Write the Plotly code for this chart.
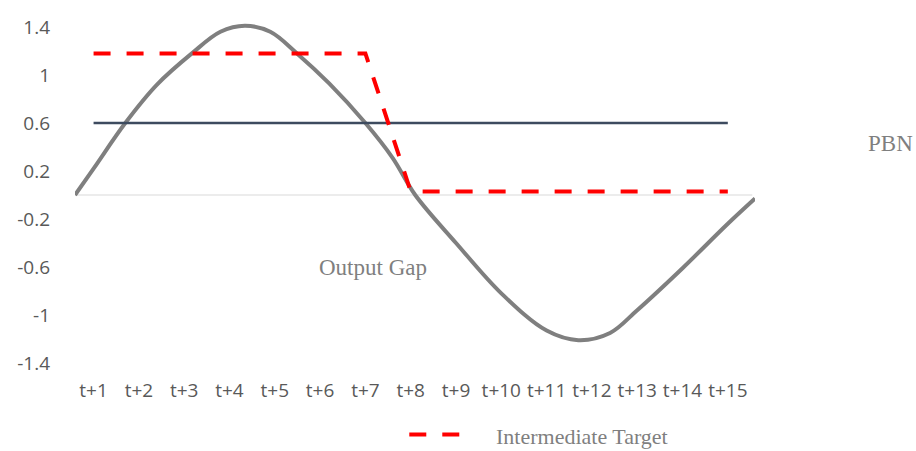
import plotly.graph_objects as go

# ---- data ----
periods = ["t+1", "t+2", "t+3", "t+4", "t+5", "t+6", "t+7", "t+8",
           "t+9", "t+10", "t+11", "t+12", "t+13", "t+14", "t+15"]
period_pos = list(range(1, 16))
pbn = [0.6] * 15
intermediate_target = [1.18, 1.18, 1.18, 1.18, 1.18, 1.18, 1.18,
                       0.03, 0.03, 0.03, 0.03, 0.03, 0.03, 0.03, 0.03]
gap_x = [0.59, 1.0, 1.7, 2.4, 3.17, 3.8, 4.34, 4.9, 5.49, 6.2, 7.0, 7.6,
         8.1, 9.0, 10.0, 11.0, 11.7, 12.4, 13.0, 14.0, 15.0, 15.6]
gap_y = [0.0, 0.22, 0.6, 0.92, 1.18, 1.36, 1.41, 1.36, 1.18, 0.93, 0.6, 0.31,
         0.0, -0.40, -0.82, -1.13, -1.21, -1.15, -0.96, -0.61, -0.24, -0.03]
y_ticks = [1.4, 1.0, 0.6, 0.2, -0.2, -0.6, -1.0, -1.4]
y_tick_text = ["1.4", "1", "0.6", "0.2", "-0.2", "-0.6", "-1", "-1.4"]

fig = go.Figure()

fig.add_trace(go.Scatter(x=gap_x, y=gap_y, mode="lines", line_shape="spline",
                         line=dict(color="#7F7F7F", width=4, smoothing=1.0),
                         showlegend=False, hoverinfo="skip"))
fig.add_trace(go.Scatter(x=period_pos, y=pbn, mode="lines",
                         line=dict(color="#3D4B5F", width=2.5), showlegend=False))
fig.add_trace(go.Scatter(x=period_pos, y=intermediate_target, mode="lines",
                         line=dict(color="#FF0000", width=4, dash="17px,16px"),
                         showlegend=False))

# zero line
fig.add_shape(type="line", x0=0.59, x1=15.54, y0=0, y1=0, xref="x", yref="y",
              line=dict(color="#D9D9D9", width=1.2), layer="below")

# legend sample
fig.add_shape(type="line", xref="paper", yref="paper", x0=0.4916, x1=0.5662,
              y0=-0.188, y1=-0.188,
              line=dict(color="#FF0000", width=4, dash="17px,16px"))

serif = "Liberation Serif, Times New Roman, serif"
fig.add_annotation(text="Intermediate Target", xref="paper", yref="paper",
                   x=0.745, y=-0.194, xanchor="center", yanchor="middle",
                   showarrow=False, font=dict(family=serif, size=22, color="#7F7F7F"))
fig.add_annotation(text="Output Gap", xref="x", yref="y", x=7.16, y=-0.604,
                   xanchor="center", yanchor="middle", showarrow=False,
                   font=dict(family=serif, size=23, color="#7F7F7F"))
fig.add_annotation(text="PBN", xref="paper", yref="paper", x=1.199, y=0.647,
                   xanchor="center", yanchor="middle", showarrow=False,
                   font=dict(family=serif, size=23, color="#7F7F7F"))

tick_font = dict(family="Open Sans, sans-serif", size=19, color="#595959")
fig.update_layout(
    width=916, height=451,
    margin=dict(l=75, r=161, t=21, b=82),
    paper_bgcolor="white", plot_bgcolor="white",
    showlegend=False,
    xaxis=dict(range=[0.59, 15.6], tickvals=period_pos, ticktext=periods,
               showgrid=False, zeroline=False, showline=False, ticks="",
               tickfont=tick_font, ticklabelstandoff=8),
    yaxis=dict(range=[-1.45, 1.45], tickvals=y_ticks, ticktext=y_tick_text,
               showgrid=False, zeroline=False, showline=False, ticks="",
               tickfont=tick_font, ticklabelstandoff=24),
)

fig.write_html(
    "out.html",
    config={"displayModeBar": False},
    post_script="document.body.style.margin='0';document.body.style.overflow='hidden';",
)
